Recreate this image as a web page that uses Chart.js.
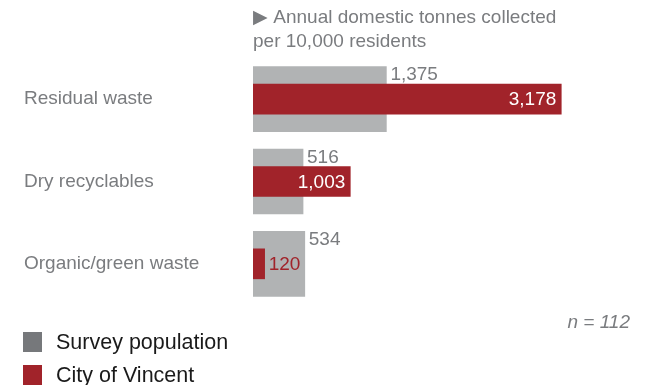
<!DOCTYPE html>
<html>
<head>
<meta charset="utf-8">
<script src="https://cdn.jsdelivr.net/npm/chart.js@4/dist/chart.umd.min.js"></script>
<style>
  html, body { margin: 0; padding: 0; background: #fff; }
  #wrap { width: 650px; height: 385px; position: relative; }
</style>
</head>
<body>
<div id="wrap"><canvas id="chart"></canvas></div>
<script>
const categories = ['Residual waste', 'Dry recyclables', 'Organic/green waste']
const surveyValues = [1375, 516, 534]
const vincentValues = [3178, 1003, 120]
const legendLabels = ['Survey population', 'City of Vincent']
const titleLines = ['\u25B6 Annual domestic tonnes collected', 'per 10,000 residents']
const noteText = 'n = 112'

const FONT = '"Liberation Sans", Arial, sans-serif'
const GREY_TEXT = '#7a7c7f'
const GREY_BAR = '#b1b3b4'
const GREY_SWATCH = '#76787b'
const RED = '#a1232a'

const fmt = v => v.toLocaleString('en-US')

const labelsPlugin = {
  id: 'labels',
  afterDatasetsDraw(chart) {
    const ctx = chart.ctx
    const area = chart.chartArea
    ctx.save()
    ctx.font = '19px ' + FONT
    ctx.textBaseline = 'middle'

    // survey labels, above-right of grey bar
    chart.getDatasetMeta(0).data.forEach((bar, i) => {
      ctx.fillStyle = GREY_TEXT
      ctx.textAlign = 'left'
      ctx.fillText(fmt(surveyValues[i]), bar.x + 4, bar.y - 24)
    })

    // vincent labels
    chart.getDatasetMeta(1).data.forEach((bar, i) => {
      const txt = fmt(vincentValues[i])
      const w = ctx.measureText(txt).width
      if (bar.x - bar.base > w + 10) {
        ctx.fillStyle = '#ffffff'
        ctx.textAlign = 'right'
        ctx.fillText(txt, bar.x - 5, bar.y + 1)
      } else {
        ctx.fillStyle = RED
        ctx.textAlign = 'left'
        ctx.fillText(txt, bar.x + 4, bar.y + 1)
      }
    })

    // title
    ctx.fillStyle = GREY_TEXT
    ctx.textAlign = 'left'
    ctx.fillText(titleLines[0], area.left, 18)
    ctx.fillText(titleLines[1], area.left, 42)

    // n note
    ctx.font = 'italic 19px ' + FONT
    ctx.textAlign = 'right'
    ctx.fillText(noteText, 630, 323)

    // legend
    ctx.font = '21.5px ' + FONT
    ctx.textAlign = 'left'
    const swatches = [GREY_SWATCH, RED]
    legendLabels.forEach((lbl, i) => {
      const y = 332 + i * 33
      ctx.fillStyle = swatches[i]
      ctx.fillRect(23, y, 19, 20)
      ctx.fillStyle = '#1a1a1a'
      ctx.fillText(lbl, 56, y + 11)
    })
    ctx.restore()
  }
}

const chart = new Chart(document.getElementById('chart'), {
  type: 'bar',
  data: {
    labels: categories,
    datasets: [
      {
        label: legendLabels[0],
        data: surveyValues,
        backgroundColor: GREY_BAR,
        barThickness: 65,
        grouped: false,
        order: 2
      },
      {
        label: legendLabels[1],
        data: vincentValues,
        backgroundColor: RED,
        barThickness: 30,
        grouped: false,
        order: 1
      }
    ]
  },
  options: {
    indexAxis: 'y',
    responsive: true,
    maintainAspectRatio: false,
    animation: false,
    layout: {
      padding: { top: 58, bottom: 80, left: 24, right: 9 }
    },
    scales: {
      x: {
        display: false,
        min: 0,
        max: 4000
      },
      y: {
        grid: { display: false },
        border: { display: false },
        afterFit(scale) { scale.width = 229 },
        ticks: {
          crossAlign: 'far',
          color: GREY_TEXT,
          font: { family: FONT, size: 19 }
        }
      }
    },
    plugins: {
      legend: { display: false },
      tooltip: { enabled: false }
    }
  },
  plugins: [labelsPlugin]
})
</script>
</body>
</html>
